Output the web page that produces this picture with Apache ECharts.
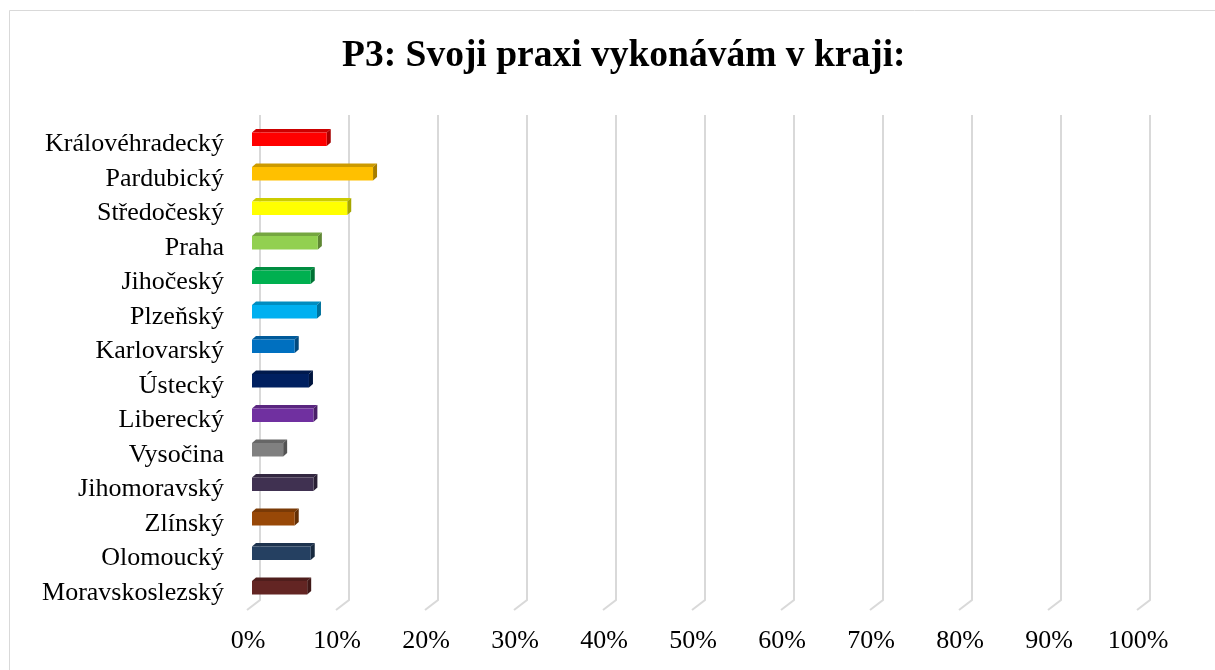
<!DOCTYPE html>
<html>
<head>
    <meta charset="utf8">
    <title>P3</title>
    <script src="https://cdn.jsdelivr.net/npm/echarts@6/dist/echarts.min.js"></script>
    <style>body{margin:0;background:#fff;}</style>
</head>
<body>
    <div id="main" style="width: 1215px;height:670px;"></div>
    <script type="text/javascript">
        // kraje (shora dolu) a jejich podil v %
        var kraje = ['Královéhradecký', 'Pardubický', 'Středočeský', 'Praha', 'Jihočeský', 'Plzeňský',
            'Karlovarský', 'Ústecký', 'Liberecký', 'Vysočina', 'Jihomoravský', 'Zlínský', 'Olomoucký', 'Moravskoslezský'];
        var podil = [8.4, 13.6, 10.7, 7.4, 6.6, 7.3, 4.8, 6.4, 6.9, 3.5, 6.9, 4.8, 6.6, 6.2];
        var barvy = ['#ff0000', '#ffc000', '#ffff00', '#92d050', '#00b050', '#00b0f0',
            '#0070c0', '#002060', '#7030a0', '#808080', '#403151', '#984807', '#254061', '#632523'];
        var ticks = [0, 10, 20, 30, 40, 50, 60, 70, 80, 90, 100];

        var serif = '"Liberation Serif", "Times New Roman", serif';
        var myChart = echarts.init(document.getElementById('main'));

        var barData = podil.map(function (v, i) { return [v, i]; });
        var wallData = ticks.map(function (t) { return [t]; });

        // ztmaveni barvy pro horni a bocni stenu
        function shade(hex, k) {
            var n = parseInt(hex.slice(1), 16);
            var r = Math.round(((n >> 16) & 255) * k);
            var g = Math.round(((n >> 8) & 255) * k);
            var b = Math.round((n & 255) * k);
            return 'rgb(' + r + ',' + g + ',' + b + ')';
        }

        var option = {
            backgroundColor: '#fff',
            animation: false,
            title: {
                text: 'P3: Svoji praxi vykonávám v kraji:',
                left: 337,
                top: 32,
                textStyle: { fontFamily: serif, fontSize: 37.5, fontWeight: 'bold', color: '#000' }
            },
            graphic: [{
                type: 'rect',
                shape: { x: 9.5, y: 10.5, width: 1300, height: 700 },
                style: { fill: 'none', stroke: '#d9d9d9', lineWidth: 1 },
                silent: true
            }],
            grid: { left: 252, right: 73, top: 127, bottom: 60 },
            xAxis: {
                type: 'value',
                min: 0,
                max: 100,
                interval: 10,
                axisLine: { show: false },
                axisTick: { show: false },
                splitLine: { show: false },
                axisLabel: {
                    formatter: '{value}%',
                    fontFamily: serif,
                    fontSize: 26,
                    color: '#000',
                    margin: 18,
                    padding: [0, 8, 0, 0]
                }
            },
            yAxis: {
                type: 'category',
                inverse: true,
                data: kraje,
                axisLine: { show: false },
                axisTick: { show: false },
                axisLabel: {
                    fontFamily: serif,
                    fontSize: 26,
                    color: '#000',
                    margin: 28,
                    padding: [3, 0, 0, 0]
                }
            },
            series: [{
                type: 'custom',
                name: 'walls',
                silent: true,
                data: wallData,
                encode: { x: 0 },
                z: 1,
                renderItem: function (params, api) {
                    var cs = params.coordSys;
                    var x = api.coord([api.value(0), 0])[0];
                    var top = cs.y, bot = cs.y + cs.height;
                    return {
                        type: 'polyline',
                        shape: { points: [[x + 8, top - 12], [x + 8, bot - 10], [x - 5, bot]] },
                        style: { fill: null, stroke: '#d9d9d9', lineWidth: 2 }
                    };
                }
            }, {
                type: 'custom',
                name: 'kraj',
                data: barData,
                encode: { x: 0, y: 1 },
                z: 2,
                renderItem: function (params, api) {
                    var idx = api.value(1);
                    var end = api.coord([api.value(0), idx]);
                    var start = api.coord([0, idx]);
                    var h = 13.5, dx = 4, dy = 3.5;
                    var x0 = start[0], x1 = end[0];
                    var y0 = end[1] - 5 - h / 2, y1 = y0 + h;
                    var c = barvy[idx];
                    return {
                        type: 'group',
                        children: [{
                            type: 'polygon',
                            shape: { points: [[x0, y0], [x0 + dx, y0 - dy], [x1 + dx, y0 - dy], [x1, y0]] },
                            style: { fill: shade(c, 0.8) }
                        }, {
                            type: 'polygon',
                            shape: { points: [[x1, y0], [x1 + dx, y0 - dy], [x1 + dx, y1 - dy], [x1, y1]] },
                            style: { fill: shade(c, 0.65) }
                        }, {
                            type: 'rect',
                            shape: { x: x0, y: y0, width: x1 - x0, height: h },
                            style: { fill: c }
                        }]
                    };
                }
            }]
        };
        myChart.setOption(option);
    </script>
</body>
</html>
